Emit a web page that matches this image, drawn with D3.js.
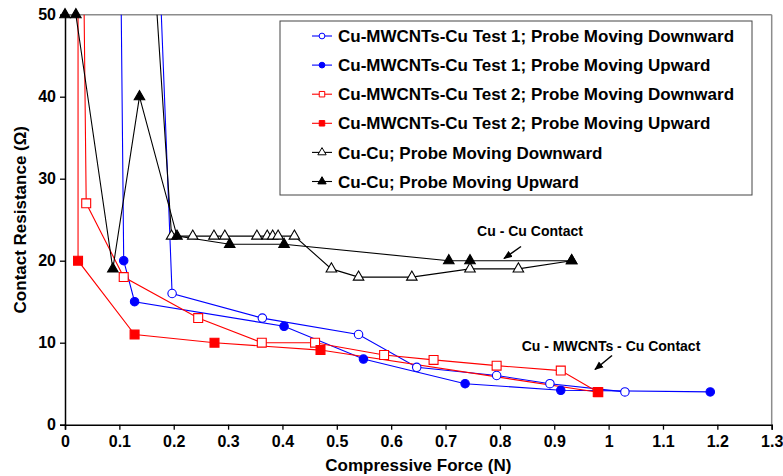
<!DOCTYPE html>
<html>
<head>
<meta charset="utf-8">
<script src="https://cdn.jsdelivr.net/npm/d3@7"></script>
<style>
  body { margin: 0; background: #fff; }
  text { font-family: "Liberation Sans", Arial, sans-serif; font-weight: bold; fill: #000; }
</style>
</head>
<body>
<svg id="chart" width="783" height="476"></svg>
<script>
// Series data: [force (N), resistance (ohm)]; points above 50 sit off the chart
var t1Down = [[0.148, 100], [0.197, 16], [0.363, 13], [0.54, 11], [0.647, 7], [0.794, 6], [0.892, 5], [1.03, 4]];
var t1Up   = [[1.187, 4], [0.912, 4.2], [0.736, 5], [0.549, 8], [0.403, 12], [0.128, 15], [0.108, 20], [0.096, 100]];
var t2Down = [[0.027, 100], [0.039, 27], [0.108, 18], [0.245, 13], [0.362, 10], [0.46, 10], [0.587, 8.5], [0.678, 7.9], [0.794, 7.2], [0.912, 6.6], [0.98, 4]];
var t2Up   = [[0.981, 3.95], [0.47, 9.1], [0.275, 10], [0.128, 11], [0.024, 20], [0.024, 100]];
var cuDown = [[0.12, 100], [0.196, 23], [0.235, 23], [0.274, 23], [0.294, 23], [0.353, 23], [0.372, 23], [0.382, 23], [0.392, 23], [0.422, 23], [0.49, 19], [0.54, 18], [0.638, 18], [0.745, 19], [0.834, 19], [0.932, 20]];
var cuUp   = [[0.932, 20], [0.745, 20], [0.706, 20], [0.403, 22], [0.303, 22], [0.206, 23], [0.137, 40], [0.088, 19], [0.02, 50], [0, 50]];

var seriesNames = [
  "Cu-MWCNTs-Cu Test 1; Probe Moving Downward",
  "Cu-MWCNTs-Cu Test 1; Probe Moving Upward",
  "Cu-MWCNTs-Cu Test 2; Probe Moving Downward",
  "Cu-MWCNTs-Cu Test 2; Probe Moving Upward",
  "Cu-Cu; Probe Moving Downward",
  "Cu-Cu; Probe Moving Upward"
];
var xTicks = [0, 0.1, 0.2, 0.3, 0.4, 0.5, 0.6, 0.7, 0.8, 0.9, 1, 1.1, 1.2, 1.3];
var yTicks = [0, 10, 20, 30, 40, 50];

// style per series
var series = [
  {data: t1Down, color: "#0000ff", shape: "circle", filled: false},
  {data: t1Up,   color: "#0000ff", shape: "circle", filled: true},
  {data: t2Down, color: "#ff0000", shape: "square", filled: false},
  {data: t2Up,   color: "#ff0000", shape: "square", filled: true},
  {data: cuDown, color: "#000000", shape: "triangle", filled: false},
  {data: cuUp,   color: "#000000", shape: "triangle", filled: true}
];
series.forEach(function(s, i) { s.name = seriesNames[i]; });

// plot area edges (note: "top" is reserved on window, so prefix them)
var pLeft = 65, pRight = 771.7, pTop = 14.7, pBottom = 424.7;
var x = d3.scaleLinear().domain([0, 1.3]).range([pLeft, pRight]);
var y = d3.scaleLinear().domain([0, 50]).range([pBottom, pTop]);

var svg = d3.select("#chart");
var defs = svg.append("defs");

defs.append("clipPath").attr("id", "plotclip")
  .append("rect").attr("x", pLeft).attr("y", pTop)
  .attr("width", pRight - pLeft).attr("height", pBottom - pTop);

defs.append("marker")
  .attr("id", "arrow").attr("viewBox", "0 0 10 10")
  .attr("refX", 9).attr("refY", 5)
  .attr("markerWidth", 6).attr("markerHeight", 6)
  .attr("orient", "auto")
  .append("path").attr("d", "M0,1 L10,5 L0,9 Z").attr("fill", "#000");

// gray frame on top/right
svg.append("line").attr("x1", pLeft).attr("x2", pRight).attr("y1", pTop).attr("y2", pTop)
  .attr("stroke", "#8c8c8c").attr("stroke-width", 1.5);
svg.append("line").attr("x1", pRight).attr("x2", pRight).attr("y1", pTop).attr("y2", pBottom)
  .attr("stroke", "#8c8c8c").attr("stroke-width", 1.5);

// axes
var xAxis = svg.append("g").attr("transform", "translate(0," + pBottom + ")")
  .call(d3.axisBottom(x).tickValues(xTicks).tickSize(5).tickPadding(6)
    .tickFormat(function(d) { return d3.format("")(d); }));
var yAxis = svg.append("g").attr("transform", "translate(" + pLeft + ",0)")
  .call(d3.axisLeft(y).tickValues(yTicks).tickSize(5).tickPadding(4));
[xAxis, yAxis].forEach(function(a) {
  a.select(".domain").attr("stroke", "#000").attr("stroke-width", 1.5);
  a.selectAll(".tick line").attr("stroke", "#000").attr("stroke-width", 1.3);
  a.selectAll(".tick text").style("font-family", "Liberation Sans, Arial, sans-serif")
    .style("font-weight", "bold").style("font-size", "16px").attr("fill", "#000");
});

svg.append("text").attr("x", (pLeft + pRight) / 2).attr("y", 471)
  .attr("text-anchor", "middle").style("font-size", "17px")
  .text("Compressive Force (N)");
svg.append("text").attr("transform", "translate(26," + ((pTop + pBottom) / 2) + ") rotate(-90)")
  .attr("text-anchor", "middle").style("font-size", "17px")
  .text("Contact Resistance (\u03A9)");

function symbolFor(shape) {
  if (shape === "circle") return d3.symbolCircle;
  if (shape === "square") return d3.symbolSquare;
  return d3.symbolTriangle;
}
function sizeFor(shape, legend) {
  if (shape === "circle") return legend ? 26 : 56;
  if (shape === "square") return legend ? 30 : 80;
  return legend ? 30 : 48;
}

var line = d3.line().x(function(d) { return x(d[0]); }).y(function(d) { return y(d[1]); });

var plot = svg.append("g");
series.forEach(function(s) {
  plot.append("path").datum(s.data)
    .attr("clip-path", "url(#plotclip)")
    .attr("d", line).attr("fill", "none")
    .attr("stroke", s.color).attr("stroke-width", 1.1);
});
series.forEach(function(s) {
  plot.selectAll(null).data(s.data.filter(function(d) { return d[1] <= 50; }))
    .enter().append("path")
    .attr("transform", function(d) { return "translate(" + x(d[0]) + "," + y(d[1]) + ")"; })
    .attr("d", d3.symbol().type(symbolFor(s.shape)).size(sizeFor(s.shape, false)))
    .attr("fill", s.filled ? s.color : "#fff")
    .attr("stroke", s.color).attr("stroke-width", 1.1);
});

// annotations
svg.append("text").attr("x", 530).attr("y", 236).attr("text-anchor", "middle")
  .style("font-size", "14px").text("Cu - Cu Contact");
svg.append("line").attr("x1", 521).attr("y1", 246.5).attr("x2", 504).attr("y2", 258.5)
  .attr("stroke", "#000").attr("stroke-width", 1.5).attr("marker-end", "url(#arrow)");
svg.append("text").attr("x", 611).attr("y", 351).attr("text-anchor", "middle")
  .style("font-size", "14px").text("Cu - MWCNTs - Cu Contact");
svg.append("line").attr("x1", 612).attr("y1", 355.5).attr("x2", 595).attr("y2", 369.5)
  .attr("stroke", "#000").attr("stroke-width", 1.5).attr("marker-end", "url(#arrow)");

// legend
var legend = svg.append("g");
legend.append("rect").attr("x", 280).attr("y", 21).attr("width", 472).attr("height", 174)
  .attr("fill", "#fff").attr("stroke", "#444").attr("stroke-width", 1);
series.forEach(function(s, i) {
  var ly = 36 + i * 29.1;
  legend.append("line").attr("x1", 312).attr("x2", 332).attr("y1", ly).attr("y2", ly)
    .attr("stroke", s.color).attr("stroke-width", 1.1);
  legend.append("path").attr("transform", "translate(322," + ly + ")")
    .attr("d", d3.symbol().type(symbolFor(s.shape)).size(sizeFor(s.shape, true)))
    .attr("fill", s.filled ? s.color : "#fff")
    .attr("stroke", s.color).attr("stroke-width", 1);
  legend.append("text").attr("x", 338).attr("y", ly).attr("dy", "0.36em")
    .style("font-size", "17px").text(s.name);
});
</script>
</body>
</html>
